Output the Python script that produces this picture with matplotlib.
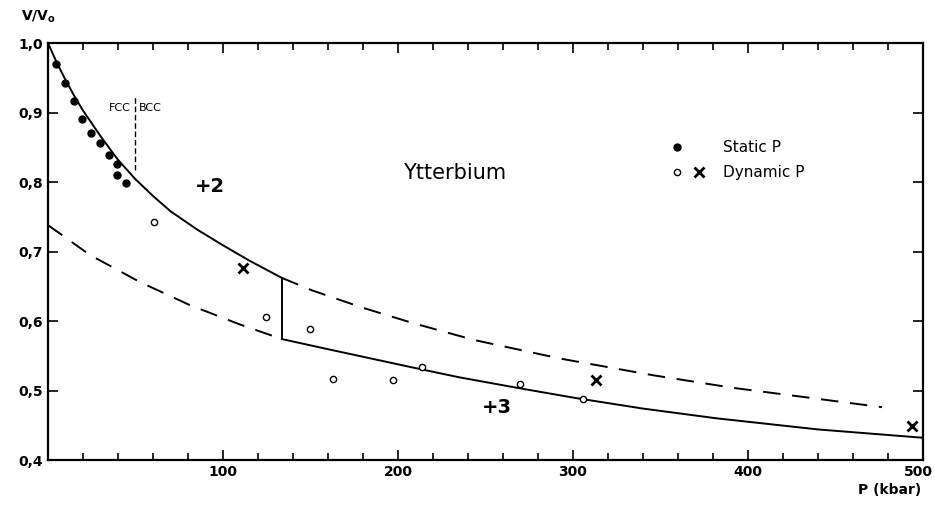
import numpy as np
import matplotlib
matplotlib.use("Agg")
import matplotlib.pyplot as plt
from matplotlib.ticker import MultipleLocator
from matplotlib.transforms import ScaledTranslation

# static pressure points (filled dots)
p_static = [4.6, 9.7, 14.9, 19.4, 24.6, 29.7, 34.9, 39.4, 39.4, 44.6]
v_static = [0.970, 0.942, 0.917, 0.891, 0.871, 0.856, 0.839, 0.826, 0.810, 0.799]

# dynamic pressure, open circles
p_dyn_o = [60.6, 124.6, 149.7, 162.6, 197.1, 213.8, 269.7, 305.7]
v_dyn_o = [0.742, 0.606, 0.588, 0.517, 0.515, 0.534, 0.509, 0.488]

# dynamic pressure, crosses
p_dyn_x = [111.3, 313.1, 493.9]
v_dyn_x = [0.676, 0.515, 0.449]

# +2 curve (solid part)
p_c2 = [0, 5, 10, 15, 20, 30, 40, 50, 60, 70, 85, 100, 115, 133.7]
v_c2 = [1.0, 0.972, 0.947, 0.924, 0.903, 0.866, 0.832, 0.804, 0.780, 0.758, 0.732, 0.709, 0.687, 0.662]

# +2 curve, dashed continuation
p_c2d = [133.7, 151, 180, 208.6, 243, 292.6, 345.7, 391, 476.6]
v_c2d = [0.662, 0.644, 0.619, 0.597, 0.573, 0.546, 0.522, 0.504, 0.476]

# +3 curve, dashed part
p_c3d = [0, 24, 52.6, 81, 109.7, 133.7]
v_c3d = [0.738, 0.695, 0.656, 0.623, 0.595, 0.574]

# +3 curve, solid part
p_c3 = [133.7, 159, 208.6, 235, 270, 302, 340, 382, 440, 500]
v_c3 = [0.574, 0.560, 0.533, 0.519, 0.503, 0.489, 0.474, 0.460, 0.444, 0.432]

# transition
p_tr = 133.7
v_tr = [0.574, 0.662]

fig = plt.figure(figsize=(9.35, 5.05), dpi=100)
ax = fig.add_axes([0.0513, 0.0891, 0.9358, 0.8257])

lw = 1.4
dash = (0, (9, 6))
ax.plot(p_c2, v_c2, color="black", lw=lw)
ax.plot(p_c2d, v_c2d, color="black", lw=lw, linestyle=dash)
ax.plot(p_c3d, v_c3d, color="black", lw=lw, linestyle=dash)
ax.plot(p_c3, v_c3, color="black", lw=lw)
ax.plot([p_tr, p_tr], v_tr, color="black", lw=lw)

# FCC | BCC boundary
ax.plot([49.7, 49.7], [0.817, 0.922], color="black", lw=1, linestyle=(0, (4, 2)))
ax.text(47.5, 0.906, "FCC", ha="right", va="center", fontsize=8)
ax.text(52, 0.906, "BCC", ha="left", va="center", fontsize=8)

ax.plot(p_static, v_static, "o", color="black", ms=5)
ax.plot(p_dyn_o, v_dyn_o, "o", mfc="white", mec="black", mew=1, ms=4.5)
ax.plot(p_dyn_x, v_dyn_x, "x", color="black", ms=6.5, mew=2)

ax.text(232.6, 0.813, "Ytterbium", ha="center", va="center", fontsize=15, fontweight="medium")
ax.text(92.6, 0.793, "+2", ha="center", va="center", fontsize=14, fontweight="bold")
ax.text(256.6, 0.475, "+3", ha="center", va="center", fontsize=14, fontweight="bold")

# legend drawn by hand
ax.plot([359.4], [0.850], "o", color="black", ms=5)
ax.plot([359.4], [0.814], "o", mfc="white", mec="black", mew=1, ms=4.5)
ax.plot([372], [0.814], "x", color="black", ms=6.5, mew=2)
ax.text(386, 0.850, "Static P", ha="left", va="center", fontsize=11)
ax.text(386, 0.814, "Dynamic P", ha="left", va="center", fontsize=11)

ax.set_xlim(0, 500)
ax.set_ylim(0.4, 1.0)
ax.xaxis.set_minor_locator(MultipleLocator(20))
ax.set_xticks([100, 200, 300, 400, 500])
ax.set_xticklabels(["100", "200", "300", "400", "500"], fontweight="bold")
ax.set_yticks([0.4, 0.5, 0.6, 0.7, 0.8, 0.9, 1.0])
ax.set_yticklabels(["0,4", "0,5", "0,6", "0,7", "0,8", "0,9", "1,0"], fontweight="bold")
ax.tick_params(which="both", direction="in", top=True, right=True, width=1.2, labelsize=10)
ax.tick_params(which="major", length=7)
ax.tick_params(which="minor", length=5)
for s in ax.spines.values():
    s.set_linewidth(1.6)

# keep the 500 label inside the picture
last = ax.get_xticklabels()[-1]
last.set_transform(last.get_transform() + ScaledTranslation(-5 / 100, 0, fig.dpi_scale_trans))

fig.text(0.022, 0.966, "V/V$_\\mathregular{o}$", ha="left", va="center", fontsize=10, fontweight="bold")
fig.text(0.985, 0.03, "P (kbar)", ha="right", va="center", fontsize=10, fontweight="bold")

plt.savefig("out.png", dpi=100)
